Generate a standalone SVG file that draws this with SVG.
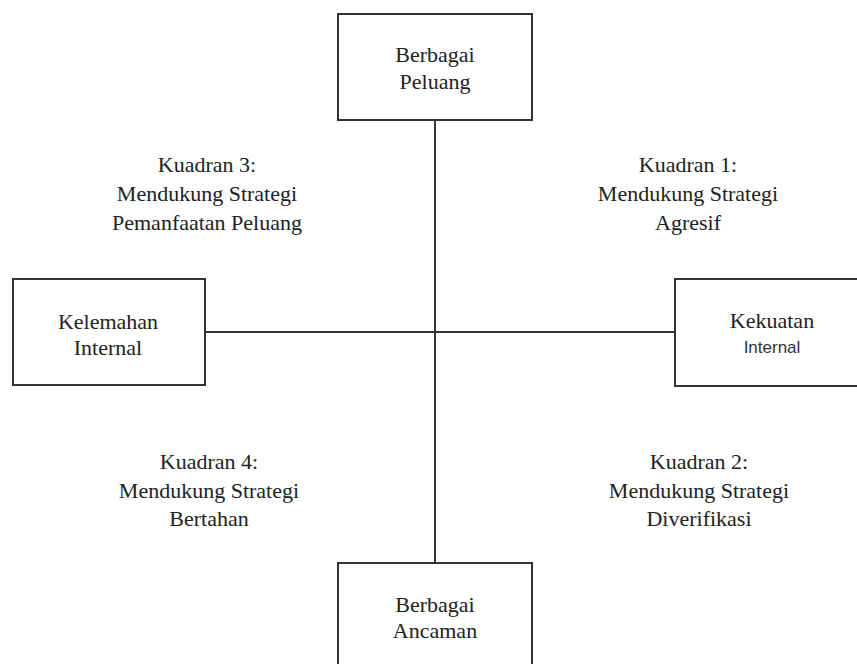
<svg xmlns="http://www.w3.org/2000/svg" width="857" height="664" viewBox="0 0 857 664">
<style>
.box{fill:#fff;stroke:#333;stroke-width:2}
.ln{stroke:#333;stroke-width:2;fill:none}
.t{font-family:"Liberation Serif","Times New Roman",serif;font-size:22px;fill:#222;text-anchor:middle}
.s{font-family:"Liberation Sans",Arial,sans-serif;font-size:17px;fill:#333;text-anchor:middle}
</style>
<rect width="857" height="664" fill="#fff"/>
<g id="connectors">
<line class="ln" x1="435" y1="120" x2="435" y2="563"/>
<line class="ln" x1="205" y1="332" x2="675" y2="332"/>
</g>
<g id="peluang">
<rect class="box" x="338" y="14" width="194" height="106"/>
<text class="t" x="435" y="62">Berbagai</text>
<text class="t" x="435" y="89">Peluang</text>
</g>
<g id="kelemahan">
<rect class="box" x="13" y="279" width="192" height="106"/>
<text class="t" x="108" y="329">Kelemahan</text>
<text class="t" x="108" y="355">Internal</text>
</g>
<g id="kekuatan">
<rect class="box" x="675" y="279" width="200" height="107"/>
<text class="t" x="772" y="328">Kekuatan</text>
<text class="s" x="772" y="353">Internal</text>
</g>
<g id="ancaman">
<rect class="box" x="338" y="563" width="194" height="120"/>
<text class="t" x="435" y="612">Berbagai</text>
<text class="t" x="435" y="638">Ancaman</text>
</g>
<g id="kuadran3">
<text class="t" x="207" y="172">Kuadran 3:</text>
<text class="t" x="207" y="201">Mendukung Strategi</text>
<text class="t" x="207" y="230">Pemanfaatan Peluang</text>
</g>
<g id="kuadran1">
<text class="t" x="688" y="172">Kuadran 1:</text>
<text class="t" x="688" y="201">Mendukung Strategi</text>
<text class="t" x="688" y="230">Agresif</text>
</g>
<g id="kuadran4">
<text class="t" x="209" y="469">Kuadran 4:</text>
<text class="t" x="209" y="498">Mendukung Strategi</text>
<text class="t" x="209" y="526">Bertahan</text>
</g>
<g id="kuadran2">
<text class="t" x="699" y="469">Kuadran 2:</text>
<text class="t" x="699" y="498">Mendukung Strategi</text>
<text class="t" x="699" y="526">Diverifikasi</text>
</g>
</svg>
